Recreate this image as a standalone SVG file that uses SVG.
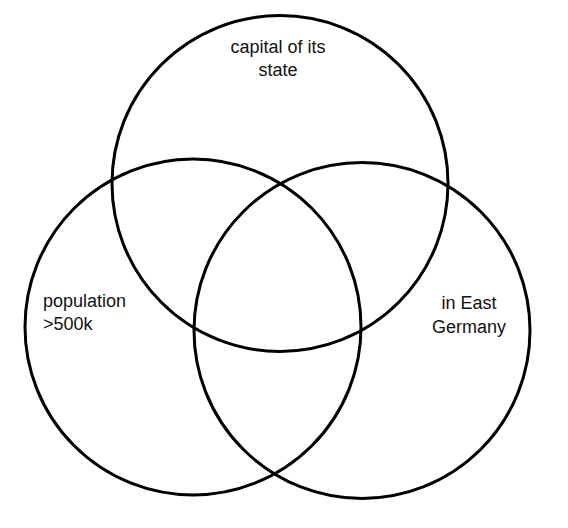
<svg xmlns="http://www.w3.org/2000/svg" width="568" height="528" viewBox="0 0 568 528">
  <style>
    .set { fill: none; stroke: #000; stroke-width: 3; }
    .lbl { font-family: "Liberation Sans", Arial, sans-serif; font-size: 18px; fill: #111; }
  </style>
  <rect width="568" height="528" fill="#fff"/>
  <g id="connectors"/>
  <g id="capital">
    <circle class="set" cx="280" cy="183.5" r="168"/>
    <text class="lbl" x="278" y="53" text-anchor="middle">capital of its</text>
    <text class="lbl" x="278" y="76" text-anchor="middle">state</text>
  </g>
  <g id="population">
    <circle class="set" cx="193" cy="327" r="168"/>
    <text class="lbl" x="43" y="307">population</text>
    <text class="lbl" x="43" y="330">&gt;500k</text>
  </g>
  <g id="east">
    <circle class="set" cx="362" cy="330.5" r="168"/>
    <text class="lbl" x="469" y="309" text-anchor="middle">in East</text>
    <text class="lbl" x="469" y="333" text-anchor="middle">Germany</text>
  </g>
</svg>
